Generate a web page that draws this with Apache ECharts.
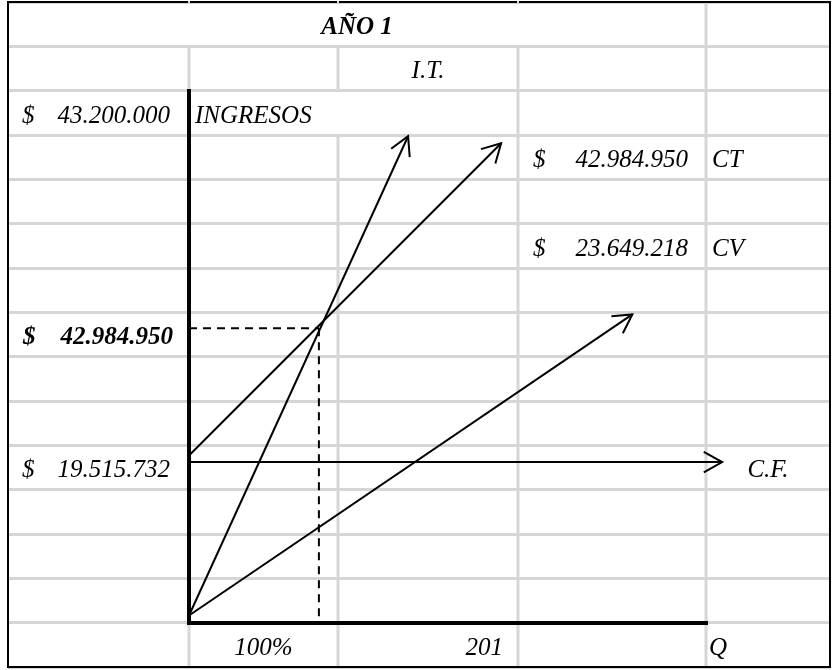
<!DOCTYPE html>
<html>
<head>
<meta charset="utf-8">
<script src="https://cdn.jsdelivr.net/npm/echarts@6/dist/echarts.min.js"></script>
<style>
  html, body { margin: 0; padding: 0; background: #ffffff; }
  #chart { width: 833px; height: 670px; }
</style>
</head>
<body>
<div id="chart"></div>
<script>
// ---------- Sheet text ----------
const title = 'AÑO 1';
const lineNames = ['I.T.', 'CT', 'CV', 'C.F.'];
const amountLabels = ['43.200.000', '42.984.950', '23.649.218', '19.515.732'];
const breakEvenLabel = '42.984.950';
const quantityLabels = ['100%', '201'];
const axisNames = ['INGRESOS', 'Q'];
const currency = '$';

// ---------- Break-even diagram (x: quantity Q, y: schematic amount level) ----------
const lineIds    = ['IT', 'CT', 'CV', 'CF'];
const startQ     = [0, 0, 0, 0];
const startLevel = [0.17, 3.78, 0.17, 3.63];
const endQ       = [339, 483, 686, 825];
const endLevel   = [10.98, 10.82, 6.96, 3.63];
const breakEvenQ = 201;
const breakEvenLevel = 6.65;

// ---------- Sheet layout ----------
const COL_WIDTHS = [181, 149, 180, 188, 124];
const ROW_COUNT = 15;
const COL_EDGES = COL_WIDTHS.reduce((acc, w) => { acc.push(acc[acc.length - 1] + w); return acc; }, [0]);
const SHEET_W = COL_EDGES[COL_EDGES.length - 1];

const FONT = '"Liberation Serif", "Times New Roman", serif';
const FONT_SIZE = 25;
const GRID_GRAY = '#d6d6d6';

// cells: column, row, span, alignment, padding, bold
const cells = [
  { col: 0, row: 0, span: 4, text: title, align: 'center', pad: 0, bold: true },
  { col: 2, row: 1, span: 1, text: lineNames[0], align: 'center', pad: 0 },
  { col: 0, row: 2, span: 1, text: currency, align: 'left', pad: 14 },
  { col: 0, row: 2, span: 1, text: amountLabels[0], align: 'right', pad: 19 },
  { col: 1, row: 2, span: 1, text: axisNames[0], align: 'left', pad: 6 },
  { col: 3, row: 3, span: 1, text: currency, align: 'left', pad: 15 },
  { col: 3, row: 3, span: 1, text: amountLabels[1], align: 'right', pad: 18 },
  { col: 4, row: 3, span: 1, text: lineNames[1], align: 'left', pad: 6 },
  { col: 3, row: 5, span: 1, text: currency, align: 'left', pad: 15 },
  { col: 3, row: 5, span: 1, text: amountLabels[2], align: 'right', pad: 18 },
  { col: 4, row: 5, span: 1, text: lineNames[2], align: 'left', pad: 6 },
  { col: 0, row: 7, span: 1, text: currency, align: 'left', pad: 15, bold: true },
  { col: 0, row: 7, span: 1, text: breakEvenLabel, align: 'right', pad: 16, bold: true },
  { col: 0, row: 10, span: 1, text: currency, align: 'left', pad: 14 },
  { col: 0, row: 10, span: 1, text: amountLabels[3], align: 'right', pad: 19 },
  { col: 4, row: 10, span: 1, text: lineNames[3], align: 'center', pad: 0 },
  { col: 1, row: 14, span: 1, text: quantityLabels[0], align: 'center', pad: 0 },
  { col: 2, row: 14, span: 1, text: quantityLabels[1], align: 'right', pad: 15 },
  { col: 4, row: 14, span: 1, text: axisNames[1], align: 'left', pad: 3 }
];

// vertical cell borders: [x, fromRow, toRow]
const verticalRules = [
  [COL_EDGES[1], 1, 2], [COL_EDGES[1], 14, 15],
  [COL_EDGES[2], 1, 2], [COL_EDGES[2], 3, 15],
  [COL_EDGES[3], 1, 15],
  [COL_EDGES[4], 0, 15]
];

// outer frame segments: [x0, y0, x1, y1] (top border has small breaks at column joints)
const frameSegments = [
  [0, 0, 0, ROW_COUNT], [SHEET_W, 0, SHEET_W, ROW_COUNT], [0, ROW_COUNT, SHEET_W, ROW_COUNT],
  [0, 0, COL_EDGES[1] - 2, 0], [COL_EDGES[1] + 2, 0, COL_EDGES[2] - 2, 0],
  [COL_EDGES[2] + 2, 0, COL_EDGES[3] - 2, 0], [COL_EDGES[3] + 2, 0, SHEET_W, 0]
];

function arrowHead(tip, from, len, ang) {
  const dx = from[0] - tip[0], dy = from[1] - tip[1];
  const d = Math.hypot(dx, dy);
  const ux = dx / d, uy = dy / d;
  const rot = (a) => [
    tip[0] + len * (ux * Math.cos(a) - uy * Math.sin(a)),
    tip[1] + len * (ux * Math.sin(a) + uy * Math.cos(a))
  ];
  return [rot(ang), tip, rot(-ang)];
}

const chart = echarts.init(document.getElementById('chart'), null, { renderer: 'canvas' });

const option = {
  backgroundColor: '#ffffff',
  animation: false,
  grid: [
    { left: 8, top: 2, width: SHEET_W, height: 665, outerBoundsMode: 'none' },
    { left: 189, top: 91, width: 517, height: 532, outerBoundsMode: 'none' }
  ],
  xAxis: [
    { gridIndex: 0, type: 'value', min: 0, max: SHEET_W, show: false },
    {
      gridIndex: 1, type: 'value', min: 0, max: 800, z: 10,
      axisLine: { show: true, onZero: false, lineStyle: { color: '#000', width: 4, cap: 'square' } },
      axisTick: { show: false }, axisLabel: { show: false }, splitLine: { show: false }
    }
  ],
  yAxis: [
    {
      gridIndex: 0, type: 'value', min: 0, max: ROW_COUNT, interval: 1, inverse: true,
      axisLine: { show: false }, axisTick: { show: false }, axisLabel: { show: false },
      splitLine: { show: true, lineStyle: { color: GRID_GRAY, width: 3 } }
    },
    {
      gridIndex: 1, type: 'value', min: 0, max: 12, z: 10,
      axisLine: { show: true, onZero: false, lineStyle: { color: '#000', width: 4, cap: 'square' } },
      axisTick: { show: false }, axisLabel: { show: false }, splitLine: { show: false }
    }
  ],
  series: [
    {
      name: 'reglas', type: 'custom', xAxisIndex: 0, yAxisIndex: 0, z: 1, silent: true,
      data: verticalRules,
      renderItem(params, api) {
        const p0 = api.coord([api.value(0), api.value(1)]);
        const p1 = api.coord([api.value(0), api.value(2)]);
        return { type: 'line', shape: { x1: p0[0], y1: p0[1], x2: p1[0], y2: p1[1] },
                 style: { stroke: GRID_GRAY, lineWidth: 3 } };
      }
    },
    {
      name: 'marco', type: 'custom', xAxisIndex: 0, yAxisIndex: 0, z: 3, silent: true,
      data: frameSegments,
      renderItem(params, api) {
        const p0 = api.coord([api.value(0), api.value(1)]);
        const p1 = api.coord([api.value(2), api.value(3)]);
        return { type: 'line', shape: { x1: p0[0], y1: p0[1], x2: p1[0], y2: p1[1] },
                 style: { stroke: '#000', lineWidth: 2, lineCap: 'square' } };
      }
    },
    {
      name: 'celdas', type: 'custom', xAxisIndex: 0, yAxisIndex: 0, z: 4, silent: true,
      data: cells.map(c => [COL_EDGES[c.col], c.row]),
      renderItem(params, api) {
        const c = cells[params.dataIndex];
        const left = api.coord([COL_EDGES[c.col], 0])[0];
        const right = api.coord([COL_EDGES[c.col + c.span], 0])[0];
        const bottom = api.coord([0, c.row + 1])[1];
        let x;
        if (c.align === 'left') x = left + c.pad;
        else if (c.align === 'right') x = right - c.pad;
        else x = (left + right) / 2;
        return {
          type: 'text',
          style: {
            x: x, y: bottom - 19, text: c.text, fill: '#000',
            align: c.align, verticalAlign: 'middle',
            font: 'italic ' + (c.bold ? 'bold ' : '') + FONT_SIZE + 'px ' + FONT
          }
        };
      }
    },
    {
      name: 'punto de equilibrio', type: 'custom', xAxisIndex: 1, yAxisIndex: 1, z: 5, silent: true,
      data: [[0, breakEvenLevel, breakEvenQ, breakEvenLevel], [breakEvenQ, breakEvenLevel, breakEvenQ, 0]],
      renderItem(params, api) {
        const p0 = api.coord([api.value(0), api.value(1)]);
        const p1 = api.coord([api.value(2), api.value(3)]);
        return { type: 'line', shape: { x1: p0[0], y1: p0[1], x2: p1[0], y2: p1[1] },
                 style: { stroke: '#000', lineWidth: 2, lineDash: [8, 6] } };
      }
    },
    {
      name: 'rectas', type: 'custom', xAxisIndex: 1, yAxisIndex: 1, z: 6, silent: true, clip: false,
      data: lineIds.map((id, i) => [startQ[i], startLevel[i], endQ[i], endLevel[i]]),
      renderItem(params, api) {
        const p0 = api.coord([api.value(0), api.value(1)]);
        const p1 = api.coord([api.value(2), api.value(3)]);
        return {
          type: 'group',
          children: [
            { type: 'line', shape: { x1: p0[0], y1: p0[1], x2: p1[0], y2: p1[1] },
              style: { stroke: '#000', lineWidth: 2 } },
            { type: 'polyline', shape: { points: arrowHead(p1, p0, 21, 29 * Math.PI / 180) },
              style: { stroke: '#000', lineWidth: 2, fill: null, lineJoin: 'miter' } }
          ]
        };
      }
    }
  ]
};

chart.setOption(option);
</script>
</body>
</html>
